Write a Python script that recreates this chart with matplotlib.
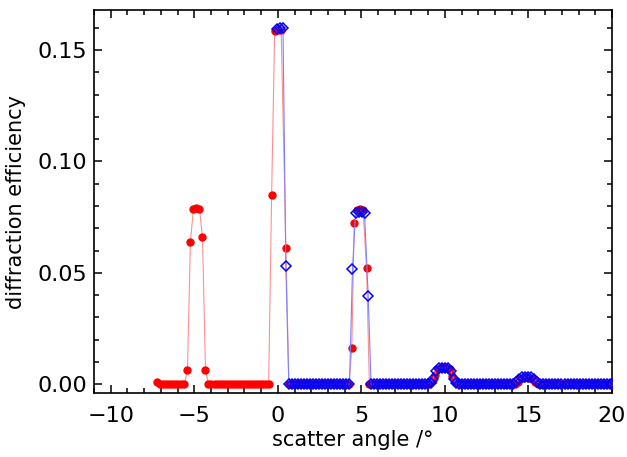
import matplotlib
matplotlib.use("Agg")
import matplotlib.pyplot as plt
from matplotlib.ticker import MultipleLocator, FormatStrFormatter

# red series (filled circles)
red_x = [-7.21, -7.03, -6.85, -6.67, -6.49, -6.31, -6.13, -5.95, -5.77, -5.59,
         -5.41, -5.23, -5.05, -4.87, -4.69, -4.51, -4.33, -4.15,
         -3.97, -3.79, -3.61, -3.43, -3.25, -3.07, -2.89, -2.71, -2.53, -2.35,
         -2.17, -1.99, -1.81, -1.63, -1.45, -1.27, -1.09, -0.91, -0.73, -0.55,
         -0.37, -0.19, 0.00, 0.20, 0.48, 0.66,
         0.84, 1.02, 1.20, 1.38, 1.56, 1.74, 1.92, 2.10, 2.28, 2.46, 2.64, 2.82,
         3.00, 3.18, 3.36, 3.54, 3.72, 3.90, 4.08, 4.26,
         4.43, 4.57, 4.74, 4.92, 5.10, 5.31, 5.48,
         5.66, 5.84, 6.02, 6.20, 6.38, 6.56, 6.74, 6.92, 7.10, 7.28, 7.46, 7.64,
         7.82, 8.00, 8.18, 8.36, 8.54, 8.72, 8.90,
         9.08, 9.26, 9.42, 9.58, 9.76, 9.94, 10.12, 10.28, 10.44, 10.60, 10.78,
         10.96, 11.14, 11.32, 11.50, 11.68, 11.86, 12.04, 12.22, 12.40, 12.58,
         12.76, 12.94, 13.12, 13.30, 13.48, 13.66, 13.84, 14.02, 14.18,
         14.35, 14.52, 14.70, 14.88, 15.06, 15.24, 15.38, 15.56,
         15.74, 15.92, 16.10, 16.28, 16.46, 16.64, 16.82, 17.00, 17.18, 17.36,
         17.54, 17.72, 17.90, 18.08, 18.26, 18.44, 18.62, 18.80, 18.98, 19.16,
         19.34, 19.52, 19.70, 19.88]
red_y = [0.0008, 0, 0, 0, 0, 0, 0, 0, 0, 0,
         0.0063, 0.064, 0.0788, 0.0790, 0.0788, 0.066, 0.0063, 0,
         0, 0, 0, 0, 0, 0, 0, 0, 0, 0,
         0, 0, 0, 0, 0, 0, 0, 0, 0, 0,
         0.085, 0.1585, 0.1590, 0.1590, 0.061, 0,
         0, 0, 0, 0, 0, 0, 0, 0, 0, 0, 0, 0,
         0, 0, 0, 0, 0, 0, 0, 0,
         0.016, 0.0724, 0.0782, 0.0786, 0.0784, 0.0522, 0,
         0, 0, 0, 0, 0, 0, 0, 0, 0, 0, 0, 0,
         0, 0, 0, 0, 0, 0, 0,
         0.0003, 0.0018, 0.0040, 0.0066, 0.0072, 0.0072, 0.0072, 0.0066, 0.0035, 0.0015, 0.0003,
         0, 0, 0, 0, 0, 0, 0, 0, 0, 0,
         0, 0, 0, 0, 0, 0, 0, 0, 0,
         0.0010, 0.0024, 0.0029, 0.0030, 0.0029, 0.0024, 0.0010, 0,
         0, 0, 0, 0, 0, 0, 0, 0, 0, 0,
         0, 0, 0, 0, 0, 0, 0, 0, 0, 0,
         0, 0, 0, 0]

# blue series (open diamonds)
blue_x = [-0.05, 0.13, 0.31, 0.48, 0.66,
          0.84, 1.02, 1.20, 1.38, 1.56, 1.74, 1.92, 2.10, 2.28, 2.46, 2.64, 2.82,
          3.00, 3.18, 3.36, 3.54, 3.72, 3.90, 4.08, 4.29,
          4.47, 4.65, 4.83, 5.01, 5.19, 5.41, 5.58,
          5.76, 5.94, 6.12, 6.30, 6.48, 6.66, 6.84, 7.02, 7.20, 7.38, 7.56, 7.74,
          7.92, 8.10, 8.28, 8.46, 8.64, 8.82, 8.98,
          9.14, 9.30, 9.46, 9.64, 9.82, 10.00, 10.18, 10.36, 10.52, 10.68,
          10.86, 11.04, 11.22, 11.40, 11.58, 11.76, 11.94, 12.12, 12.30, 12.48,
          12.66, 12.84, 13.02, 13.20, 13.38, 13.56, 13.74, 13.92, 14.10,
          14.28, 14.46, 14.64, 14.82, 15.00, 15.18, 15.36, 15.54,
          15.72, 15.90, 16.08, 16.26, 16.44, 16.62, 16.80, 16.98, 17.16, 17.34,
          17.52, 17.70, 17.88, 18.06, 18.24, 18.42, 18.60, 18.78, 18.96, 19.14,
          19.32, 19.50, 19.68, 19.86, 20.00]
blue_y = [0.1596, 0.1600, 0.1598, 0.053, 0,
          0, 0, 0, 0, 0, 0, 0, 0, 0, 0, 0, 0,
          0, 0, 0, 0, 0, 0, 0, 0,
          0.0516, 0.0768, 0.0772, 0.0772, 0.0768, 0.0397, 0,
          0, 0, 0, 0, 0, 0, 0, 0, 0, 0, 0, 0,
          0, 0, 0, 0, 0, 0, 0,
          0.0005, 0.0025, 0.0058, 0.0072, 0.0073, 0.0073, 0.0072, 0.0058, 0.0025, 0.0005,
          0, 0, 0, 0, 0, 0, 0, 0, 0, 0,
          0, 0, 0, 0, 0, 0, 0, 0, 0,
          0.0008, 0.0024, 0.0031, 0.0032, 0.0032, 0.0031, 0.0024, 0.0008,
          0, 0, 0, 0, 0, 0, 0, 0, 0, 0,
          0, 0, 0, 0, 0, 0, 0, 0, 0, 0,
          0, 0, 0, 0, 0]

plt.rcParams["font.family"] = "DejaVu Sans"

fig = plt.figure(figsize=(6.27, 4.57), dpi=100)
ax = fig.add_axes([0.150, 0.140, 0.826, 0.838])

# thin connecting lines, then the markers on top
ax.plot(red_x, red_y, color="#ff9090", linewidth=0.8, zorder=2)
ax.plot(red_x, red_y, linestyle="none", marker="o", markersize=5.0,
        markerfacecolor="red", markeredgecolor="red", zorder=3)
ax.plot(blue_x, blue_y, color="#8080ff", linewidth=0.8, zorder=4)
ax.plot(blue_x, blue_y, linestyle="none", marker="D", markersize=4.6,
        markerfacecolor="none", markeredgecolor="blue", markeredgewidth=1.1, zorder=5)

ax.set_xlim(-11, 20)
ax.set_ylim(-0.004, 0.168)
ax.xaxis.set_major_locator(MultipleLocator(5))
ax.xaxis.set_minor_locator(MultipleLocator(1))
ax.yaxis.set_major_locator(MultipleLocator(0.05))
ax.yaxis.set_minor_locator(MultipleLocator(0.01))
ax.yaxis.set_major_formatter(FormatStrFormatter("%.2f"))
ax.tick_params(which="both", direction="in", top=True, right=True, labelsize=16,
               width=1.1, colors="black")
ax.tick_params(which="major", length=6)
ax.tick_params(which="minor", length=3.5)
ax.tick_params(axis="x", pad=9)
ax.tick_params(axis="y", pad=5)
for s in ax.spines.values():
    s.set_linewidth(1.2)

ax.set_xlabel("scatter angle /\u00b0", fontsize=15, labelpad=3)
ax.set_ylabel("diffraction efficiency", fontsize=15, labelpad=8)

fig.savefig("out.png", dpi=100)
